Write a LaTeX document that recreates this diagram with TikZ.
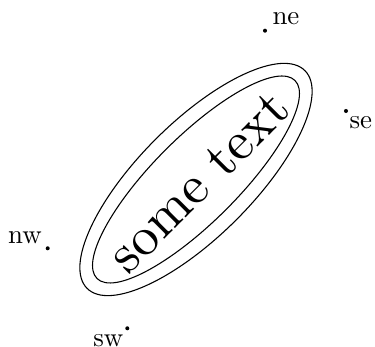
\documentclass[tikz,border=0pt]{standalone}
\begin{document}
\begin{tikzpicture}[x=0.372pt,y=0.372pt,
  dot/.style={fill=black,circle,inner sep=0pt,minimum size=1.5pt},
  lbl/.style={inner sep=0pt,font=\fontsize{10}{12}\selectfont}]
\useasboundingbox (0,0) rectangle (375,347);
\coordinate (c) at (196,167.5);
\draw[rotate around={45:(c)}] (c) ellipse (154 and 57);
\draw[rotate around={45:(c)}] (c) ellipse (140 and 42.5);
\node[rotate=45,scale=2.02,inner sep=0pt,font=\fontsize{10}{12}\selectfont] (t) at (199,165) {some text};
\node[dot] (ne) at (265,316.3) {};
\node[dot] (se) at (346,236) {};
\node[dot] (nw) at (47.7,98.7) {};
\node[dot] (sw) at (127.3,18.7) {};
\node[lbl,anchor=base west] (lne) at ([shift={(7,5.7)}]ne) {ne};
\node[lbl,anchor=base west] (lse) at ([shift={(3,-17.3)}]se) {se};
\node[lbl,anchor=base east] (lnw) at ([shift={(-5.5,5)}]nw) {nw};
\node[lbl,anchor=base east] (lsw) at ([shift={(-3.5,-18.2)}]sw) {sw};
\end{tikzpicture}
\end{document}
